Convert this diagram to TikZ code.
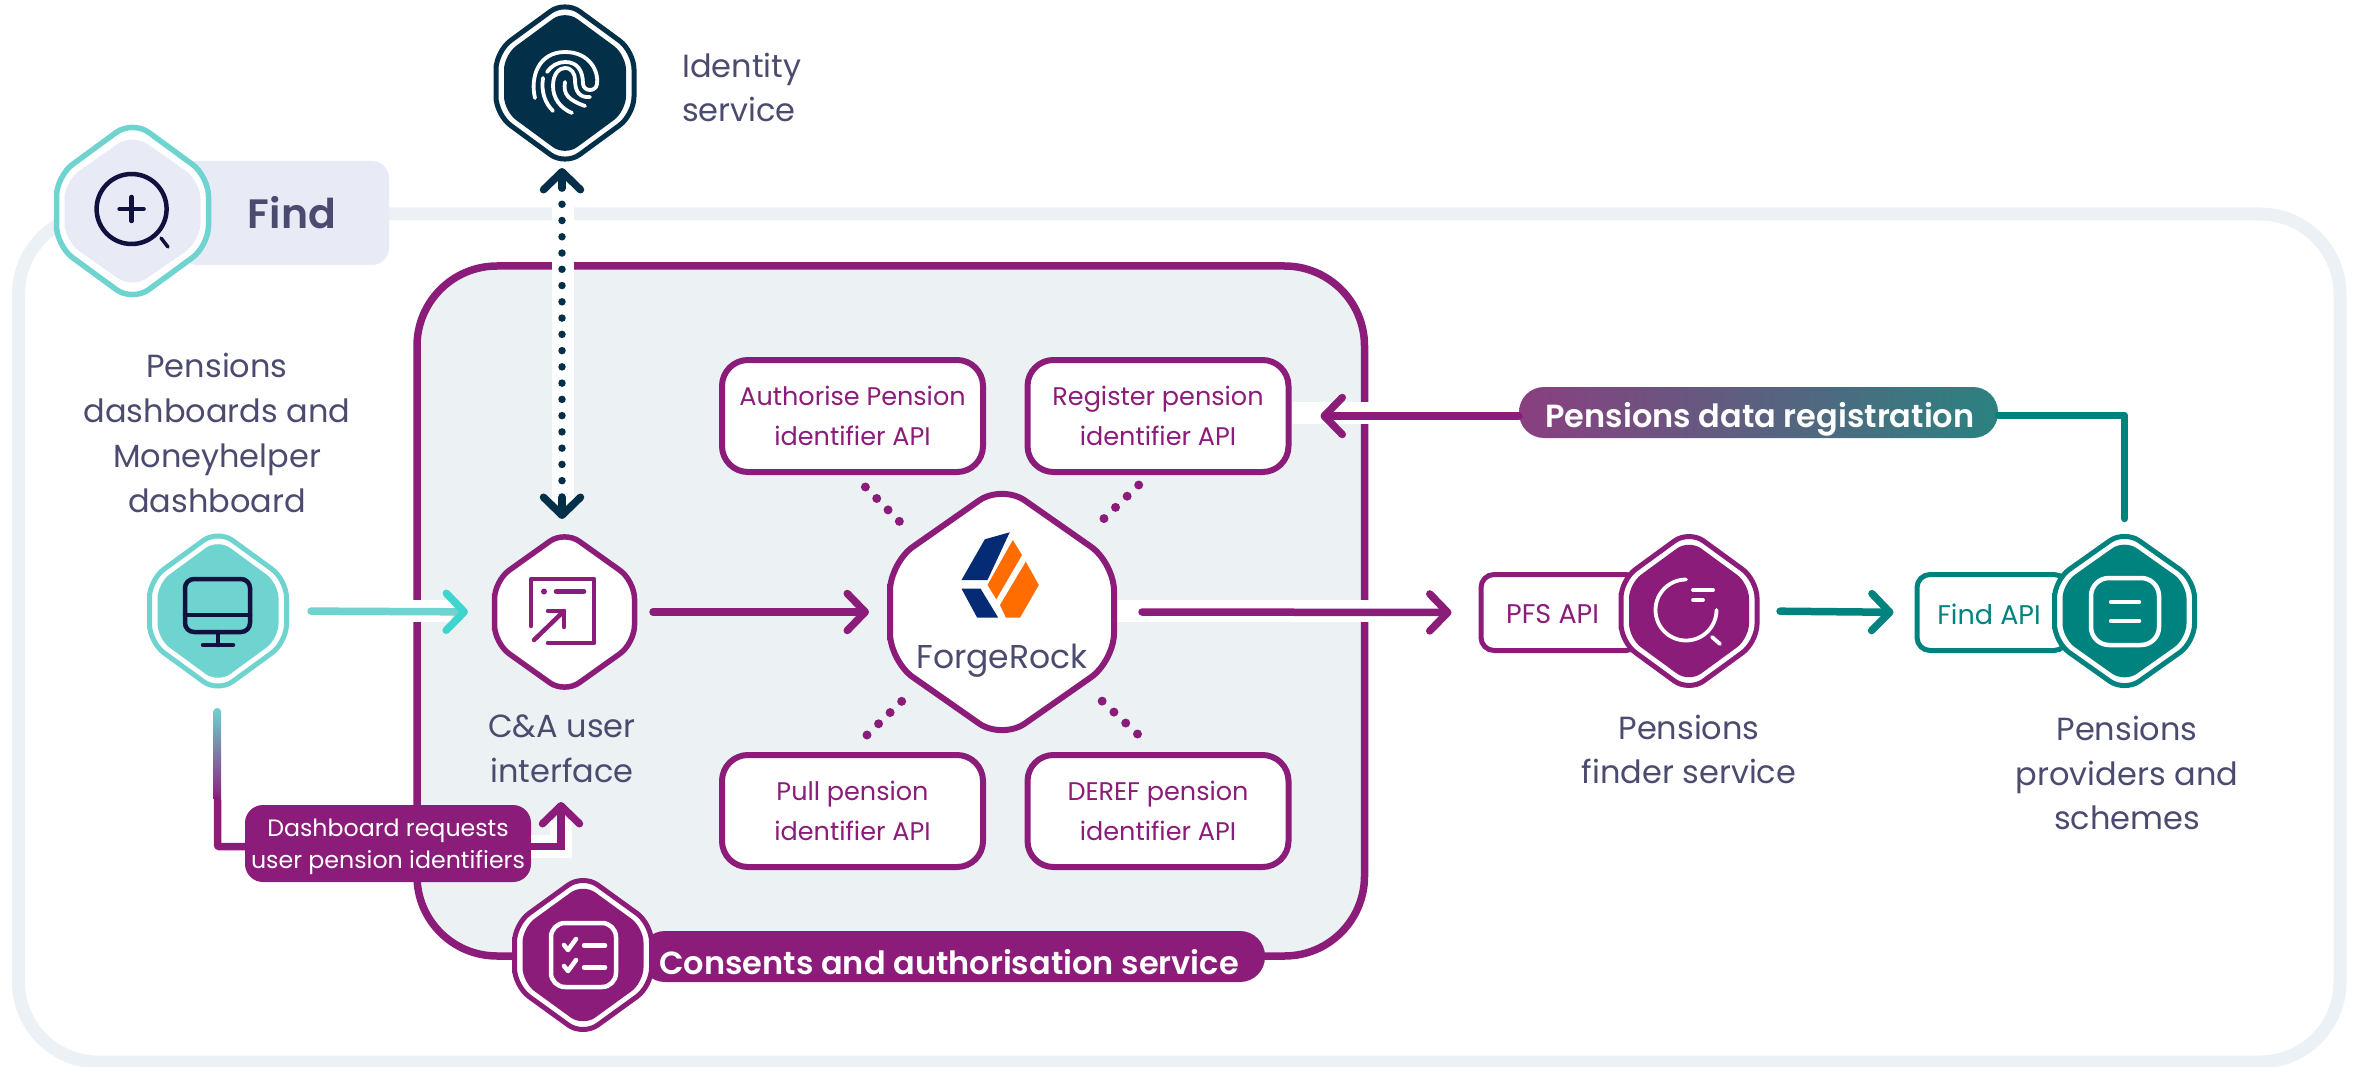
\documentclass[tikz,border=0pt]{standalone}
\usepackage{fontspec}
\setmainfont{Poppins}[BoldFont={Poppins SemiBold}]
\usetikzlibrary{arrows.meta,calc}
\definecolor{pur}{HTML}{8B1C79}
\definecolor{tl}{HTML}{00827F}
\definecolor{aq}{HTML}{6FD3CF}
\definecolor{aqh}{HTML}{3FD5CF}
\definecolor{drk}{HTML}{033048}
\definecolor{lav}{HTML}{E8EAF6}
\definecolor{frm}{HTML}{EBF1F4}
\definecolor{ink}{HTML}{4A4B6E}
\definecolor{nvy}{HTML}{10113F}
\definecolor{lgb}{HTML}{042B73}
\definecolor{lgo}{HTML}{FF6D00}
\definecolor{gpl}{HTML}{8A3F80}
\definecolor{gtl}{HTML}{2B8280}
\newcommand{\fs}[2]{\fontsize{#1}{#2}\selectfont}
\newcommand{\hexp}[4]{({#1-(#3)},{#2}) -- ({#1-(#3)},{#2-0.42*(#4)}) -- ({#1},{#2-1.09*(#4)}) -- ({#1+(#3)},{#2-0.42*(#4)}) -- ({#1+(#3)},{#2+0.42*(#4)}) -- ({#1},{#2+1.09*(#4)}) -- ({#1-(#3)},{#2+0.42*(#4)}) -- cycle}
% double hexagon: outer stroke, white gap, filled core
\newcommand{\dhex}[7]{%
  \draw[#6,fill=white,line width=5,rounded corners=18] \hexp{#2}{#3}{#4-2.5}{#5-2.5};
  \fill[#7,rounded corners=15] \hexp{#2}{#3}{#4-10.5}{#5-11};
}
\tikzset{
  anc/.style={inner sep=0,outer sep=0,minimum width=#1},
  lbl/.style={text=ink,align=center,font=\fs{32}{44.8},inner sep=0},
  apibox/.style={draw=pur,fill=white,line width=6,rounded corners=26,minimum width=261,minimum height=112,
     text=pur,align=center,font=\fs{25.5}{39.5},inner sep=0},
  conn/.style={line width=7.5,line cap=round,line join=round},
  head/.style={-{Straight Barb[length=18pt,width=37pt,round,line width=7.5pt]}},
  dots/.style={pur,line width=9,line cap=round,dash pattern=on 0pt off 16.1pt},
  thinbox/.style={fill=white,line width=5,rounded corners=13,minimum height=76,inner sep=0},
  ic/.style={line width=4.5,line cap=round,line join=round},
}
\begin{document}
\begin{tikzpicture}[x=1pt,y=-1pt]
\useasboundingbox (0,0) rectangle (2357,1067);
% anchors for hexagons
\node[anc=143,minimum height=156] (idn) at (565,83) {};
\node[anc=158,minimum height=172] (fnd) at (132.5,211) {};
\node[anc=142,minimum height=154] (dash) at (218,611) {};
\node[anc=145,minimum height=154] (cui) at (564.5,612) {};
\node[anc=230,minimum height=249] (fr) at (1002,612) {};
\node[anc=142,minimum height=153] (pfs) at (1689,611) {};
\node[anc=146,minimum height=153] (prov) at (2124.5,611) {};
\node[anc=142,minimum height=153] (cas) at (583,955) {};
% outer frame
\draw[frm,line width=13,rounded corners=80] (18.5,214) rectangle (2340,1062);
% find tag
\fill[lav,rounded corners=17] (180,161) rectangle (389,265);
\node[text=ink,font=\fs{41}{41}\bfseries] (findt) at (292,213) {Find};
\draw[aq,fill=white,line width=5.5,rounded corners=20] \hexp{132.5}{211}{76}{83};
\fill[lav,rounded corners=18] \hexp{132.5}{211}{68}{71};
% C&A box
\draw[pur,fill=frm!96!white,line width=7.5,rounded corners=80] (417,266) rectangle (1364.5,956);
% API boxes
\node[apibox] (auth) at (852.5,416) {Authorise Pension\\identifier API};
\node[apibox] (reg) at (1158,416) {Register pension\\identifier API};
\node[apibox] (pull) at (852.5,811) {Pull pension\\identifier API};
\node[apibox] (deref) at (1158,811) {DEREF pension\\identifier API};
% white halos
\fill[white] (551.5,200) rectangle (573.5,506);
\fill[white] (405,600) rectangle (452,622);
\fill[white] (1117,600) rectangle (1385,622);
\fill[white] (1292,402) rectangle (1385,424);
% pills
\node[fill=pur,rounded corners=18,minimum width=286,minimum height=77,inner sep=0] (req) at (388,843.5) {};
\node[text=white,align=center,font=\fs{23.7}{32},inner sep=0] (reqt) at (388,847) {Dashboard requests\\user pension identifiers};
\node[left color=gpl,right color=gtl,rounded corners=25,minimum width=479,minimum height=51,inner sep=0] (dreg) at (1758.5,412.5) {};
\node[text=white,font=\fs{32}{32}\bfseries] (dregt) at (1760,419) {Pensions data registration};
\node[fill=pur,rounded corners=25,minimum width=625,minimum height=51,inner sep=0] (casp) at (952.5,956.5) {};
\node[text=white,font=\fs{32}{32}\bfseries] (cast) at (949,962) {Consents and authorisation service};
% hexagons
\dhex{idn}{565}{83}{71.5}{78}{drk}{drk}
\dhex{dash}{218}{611}{71}{77}{aq}{aq}
\dhex{cas}{583}{955}{71}{76.5}{pur}{pur}
\draw[pur,fill=white,line width=5.5,rounded corners=18] \hexp{564.5}{612}{70}{74.5};
\draw[pur,fill=white,line width=6,rounded corners=28] \hexp{1002}{612}{112}{117};
% API stubs at the two right services
\node[draw=pur,thinbox,minimum width=158] (pfsb) at (1560,612.5) {};
\node[draw=tl,thinbox,minimum width=150] (findb) at (1992,612.5) {};
\node[text=pur,font=\fs{27}{27},inner sep=0] (pfsl) at (1552.6,614) {PFS API};
\node[text=tl,font=\fs{27}{27},inner sep=0] (findl) at (1989,614) {Find API};
\dhex{pfs}{1689}{611}{70.5}{76.5}{pur}{pur}
\dhex{prov}{2124.5}{611}{72.5}{76.5}{tl}{tl}
% labels
\node[lbl,align=left,anchor=west] (idl) at (682,87.5) {Identity\\service};
\node[lbl] (dashl) at (217,433) {Pensions\\dashboards and\\Moneyhelper\\dashboard};
\node[lbl] (cuil) at (562,748.5) {C\&A user\\interface};
\node[lbl] (pfsn) at (1689,749.5) {Pensions\\finder service};
\node[lbl] (provn) at (2127,773) {Pensions\\providers and\\schemes};
\node[text=ink,font=\fs{33}{34},inner sep=0] (frl) at (1002,661) {ForgeRock};
% connectors
\draw[conn,aq,-{Straight Barb[length=18pt,width=37pt,round,line width=7.5pt,color=aqh]},shorten <=22,shorten >=24] (dash.east) -- (cui.west);
\draw[conn,pur,head,shorten <=16,shorten >=18] (cui.east) -- (fr.west);
\draw[conn,pur,head,shorten <=25,shorten >=27] (fr.east) -- (pfsb.west);
\draw[conn,tl,head,shorten <=20,shorten >=21] (pfs.east) -- (findb.west);
\draw[conn,pur,head,shorten >=29] (dreg.west |- reg.east) -- (reg.east);
\draw[conn,tl,shorten >=16] ([yshift=-3]dreg.east) -| (prov.north);
% identity link
\draw[drk,line width=7.5,line cap=round,dash pattern=on 0pt off 16.26pt] (562,188) -- (562,497);
\draw[conn,drk,head] ([xshift=-3,yshift=-27]idn.south) -- ([xshift=-3,yshift=-7]idn.south);
\draw[conn,drk,head,shorten >=16] ([xshift=-2.5,yshift=37]cui.north) -- ([xshift=-2.5]cui.north);
% dotted links to ForgeRock
\coordinate (d1a) at (865.4,487); \coordinate (d1b) at (900,522);
\coordinate (d2a) at (1138.7,485); \coordinate (d2b) at (1103.5,519);
\coordinate (d3a) at (867,735); \coordinate (d3b) at (902,701);
\coordinate (d4a) at (1137.5,734); \coordinate (d4b) at (1102,701);
\draw[dots] (d1a) -- (d1b);
\draw[dots] (d2a) -- (d2b);
\draw[dots] (d3a) -- (d3b);
\draw[dots] (d4a) -- (d4b);
% dashboard request link
\shade[top color=aq,bottom color=pur,rounded corners=3.5] (213.5,708) rectangle (221,802);
\draw[conn,pur,shorten <=112,rounded corners=1] ([xshift=-0.5]dash.south) |- ([yshift=-3]req.west);
\coordinate (reqtip) at (561,802);
\fill[white] (531,835) rectangle (571,858);
\fill[white] (550,820) rectangle (572,858);
\draw[conn,pur,head,line join=miter] ([yshift=-3]req.east) -| (reqtip);
% logo
\fill[lgb] (1009.7,532.3) -- (984.8,539.3) -- (961.5,580) -- (987.5,580) -- cycle;
\fill[lgb] (961.5,588.7) -- (980.6,588.7) -- (998.2,617.7) -- (977.2,617.7) -- cycle;
\fill[lgo] (1012.8,540) -- (1022,555) -- (996.3,599.3) -- (987.5,585) -- cycle;
\fill[lgo] (1025.8,561.7) -- (1038.8,585) -- (1020,617.7) -- (1005.9,617.7) -- (1000,605) -- cycle;
% find icon
\draw[nvy,ic] (131.6,209) circle (35);
\draw[nvy,ic] (131.6,197) -- (131.6,221) (119.6,209) -- (143.6,209);
\draw[nvy,ic,line width=3.5] (161,238) -- (168,247);
% fingerprint
\begin{scope}[white,ic,line width=3.8]
\draw (535,98) .. controls (530,78) and (538,52) .. (565,52) .. controls (590,52) and (599,72) .. (597,84) .. controls (596,92) and (584,92) .. (583,84) .. controls (583,70) and (577,62) .. (565,62) .. controls (558,62) and (551,66) .. (547,72);
\draw (543,78) .. controls (541,92) and (545,103) .. (553,111);
\draw (572,113) .. controls (560,108) and (553,98) .. (553,86) .. controls (553,74) and (559,68) .. (565,68) .. controls (572,68) and (575,74) .. (575,80) .. controls (575,92) and (580,98) .. (590,97);
\draw (565,82) .. controls (563,94) and (568,100) .. (585,106);
\end{scope}
% computer icon
\begin{scope}[nvy,ic]
\draw[rounded corners=9] (185,579) rectangle (250,632);
\draw (185,615) -- (250,615);
\draw (218,632) -- (218,645);
\draw (203,645) -- (233,645);
\end{scope}
% C&A icon
\begin{scope}[pur,ic]
\draw (531,626) -- (531,579) -- (594,579) -- (594,643) -- (548,643);
\draw (556,591.5) -- (584,591.5);
\fill (544,591.5) circle (3);
\draw (534,640) -- (564,611);
\draw (548,611) -- (564,611) -- (564,627);
\end{scope}
% consents icon
\begin{scope}[white,ic]
\draw[rounded corners=14] (551,923) rectangle (616,987);
\draw (564,945) -- (568,950) -- (576,939);
\draw (564,966) -- (568,971) -- (576,960);
\draw (584,945.5) -- (605,945.5);
\draw (584,967.5) -- (605,967.5);
\end{scope}
% PFS icon
\begin{scope}[white,ic,line width=3.8]
\draw (1716.5,610) arc[start angle=0,end angle=270,radius=30.5];
\draw (1693,590) -- (1713,590);
\draw (1693,600) -- (1703,600);
\draw (1712,637) -- (1720,644);
\end{scope}
% provider icon
\begin{scope}[white,ic]
\draw[rounded corners=18] (2091,578) rectangle (2159,645);
\draw (2111,602) -- (2139,602);
\draw (2111,621) -- (2139,621);
\end{scope}
\end{tikzpicture}
\end{document}
